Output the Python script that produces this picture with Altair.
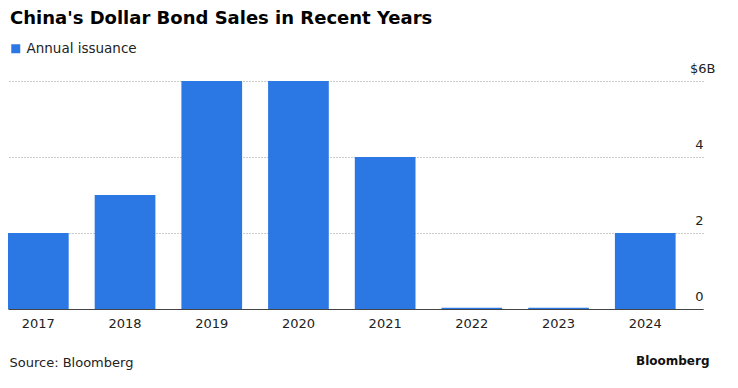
import altair as alt
import pandas as pd

years = ["2017", "2018", "2019", "2020", "2021", "2022", "2023", "2024"]
issuance = [2.0, 3.0, 6.0, 6.0, 4.0, 0.03, 0.03, 2.0]
series_name = "Annual issuance"
y_ticks = [0, 2, 4, 6]

df = pd.DataFrame({"year": years, "value": issuance, "series": [series_name] * len(years)})

BLUE = "#2b78e4"
FONT = "DejaVu Sans"

chart = (
    alt.Chart(df)
    .mark_bar(color=BLUE)
    .encode(
        x=alt.X(
            "year:N",
            sort=years,
            scale=alt.Scale(paddingInner=0.3, paddingOuter=0.158, align=0),
            axis=alt.Axis(
                title="Source: Bloomberg",
                titleAnchor="start",
                titleAlign="left",
                titleBaseline="alphabetic",
                titleX=1,
                titleY=57,
                titleFont=FONT,
                titleFontSize=13,
                titleFontWeight="normal",
                titleColor="#222222",
                labelAngle=0,
                labelFont=FONT,
                labelFontSize=13,
                labelColor="#222222",
                labelPadding=8,
                ticks=False,
                domainColor="#444444",
                domainWidth=1,
                grid=False,
            ),
        ),
        y=alt.Y(
            "value:Q",
            scale=alt.Scale(domain=[0, 6], nice=False),
            axis=alt.Axis(
                orient="right",
                values=y_ticks,
                labelExpr="datum.value == 6 ? '$6B' : datum.label",
                labelAlign="right",
                labelBaseline="alphabetic",
                labelOffset=-9,
                labelPadding={"condition": {"test": "datum.value == 6", "value": 12}, "value": 0},
                labelFont=FONT,
                labelFontSize=13,
                labelColor="#222222",
                ticks=False,
                domain=False,
                grid=True,
                gridColor="#999999",
                gridDash=[1, 2],
                gridWidth=1,
                title="Bloomberg",
                titleAngle=0,
                titleAlign="right",
                titleBaseline="alphabetic",
                titleX=6,
                titleY=283,
                titleFont=FONT,
                titleFontSize=12,
                titleFontWeight="bold",
                titleColor="#111111",
            ),
        ),
        fill=alt.Fill(
            "series:N",
            scale=alt.Scale(domain=[series_name], range=[BLUE]),
            legend=alt.Legend(
                title=None,
                orient="none",
                legendX=1,
                legendY=-39,
                symbolType="square",
                symbolSize=81,
                symbolStrokeWidth=0,
                labelFont=FONT,
                labelFontSize=13.5,
                labelColor="#222222",
                labelOffset=4,
                padding=0,
            ),
        ),
    )
    .properties(
        width=695,
        height=228,
        background="white",
        autosize=alt.AutoSizeParams(type="none"),
        padding={"left": 0, "top": 73, "right": 27, "bottom": 71},
        title=alt.TitleParams(
            "China's Dollar Bond Sales in Recent Years",
            anchor="start",
            frame="group",
            font=FONT,
            fontSize=18,
            fontWeight="bold",
            color="#000000",
            offset=0,
            baseline="alphabetic",
            dx=2,
        ),
    )
    .configure_view(strokeWidth=0, stroke="transparent")
)

chart.save("out.html", embed_options={"renderer": "svg", "actions": False})
